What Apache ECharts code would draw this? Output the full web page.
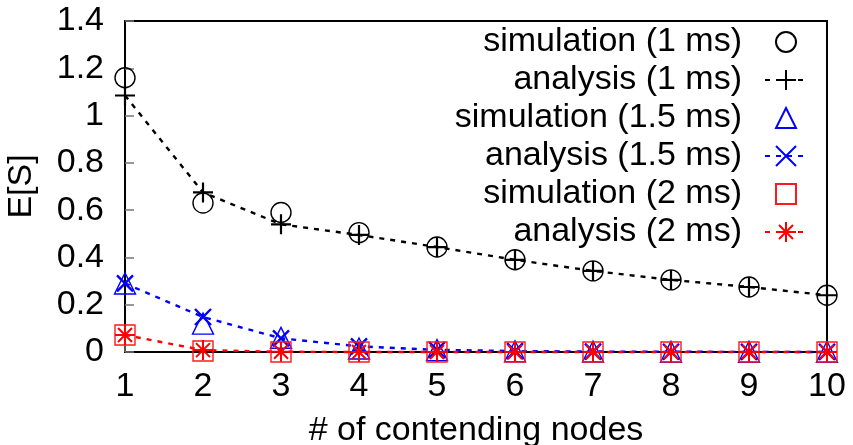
<!DOCTYPE html>
<html>
<head>
<meta charset="utf-8">
<script src="https://cdn.jsdelivr.net/npm/echarts@6/dist/echarts.min.js"></script>
<style>
  html, body { margin: 0; padding: 0; background: #fff; }
  #chart { width: 853px; height: 445px; }
</style>
</head>
<body>
<div id="chart"></div>
<script>
// Number of contending nodes
const nodes = [1, 2, 3, 4, 5, 6, 7, 8, 9, 10];

// E[S] for slot length 1 ms
const sim1ms = [1.16, 0.63, 0.59, 0.505, 0.444, 0.39, 0.343, 0.305, 0.275, 0.24];
const ana1ms = [1.085, 0.675, 0.54, 0.495, 0.444, 0.39, 0.343, 0.305, 0.275, 0.24];

// E[S] for slot length 1.5 ms
const sim15ms = [0.29, 0.12, 0.06, 0.015, 0.008, 0.003, 0.002, 0.001, 0.001, 0.001];
const ana15ms = [0.29, 0.148, 0.058, 0.024, 0.009, 0.004, 0.002, 0.001, 0.0005, 0.0002];

// E[S] for slot length 2 ms
const sim2ms = [0.072, 0.004, 0, 0, 0, 0, 0, 0, 0, 0];
const ana2ms = [0.072, 0.008, 0.001, 0, 0, 0, 0, 0, 0, 0];

const yTicks = { min: 0, max: 1.4, step: 0.2 };

const FONT = 'Liberation Sans, Arial, Helvetica, sans-serif';
const PLUS = 'path://M10,0L10,20M0,10L20,10';
const CROSS = 'path://M0,0L20,20M20,0L0,20';
const STAR = 'path://M10,0L10,20M0,10L20,10M3,3L17,17M17,3L3,17';
const DASH = [5, 6];

const pairs = (ys) => nodes.map((x, i) => [x, ys[i]]);

function simSeries(name, ys, color, symbol, size) {
  return {
    name, type: 'line', data: pairs(ys),
    symbol, symbolSize: size, showSymbol: true, showAllSymbol: true,
    clip: false, silent: true, animation: false,
    lineStyle: { width: 0, color },
    itemStyle: { color: 'rgba(0,0,0,0)', borderColor: color, borderWidth: 1.4 }
  };
}

function anaSeries(name, ys, color, symbol, size, bw) {
  return {
    name, type: 'line', data: pairs(ys),
    symbol, symbolSize: size, showSymbol: true, showAllSymbol: true,
    clip: false, silent: true, animation: false,
    lineStyle: { width: 2.4, color, type: DASH },
    itemStyle: { color: 'rgba(0,0,0,0)', borderColor: color, borderWidth: bw }
  };
}

const series = [
  simSeries('simulation (1 ms)', sim1ms, '#000000', 'circle', 20),
  anaSeries('analysis (1 ms)', ana1ms, '#000000', PLUS, 20, 2.2),
  simSeries('simulation (1.5 ms)', sim15ms, '#0000ff', 'triangle', 21),
  anaSeries('analysis (1.5 ms)', ana15ms, '#0000ff', CROSS, 16, 2.4),
  simSeries('simulation (2 ms)', sim2ms, '#ff1a1a', 'rect', 20),
  anaSeries('analysis (2 ms)', ana2ms, '#ff0000', STAR, 20, 2)
];

const chart = echarts.init(document.getElementById('chart'));
chart.setOption({
  animation: false,
  backgroundColor: '#ffffff',
  textStyle: { fontFamily: FONT },
  grid: {
    left: 125, right: 26, top: 21, bottom: 93,
    containLabel: false, outerBoundsMode: 'none',
    show: true, borderColor: '#000', borderWidth: 2, backgroundColor: 'transparent'
  },
  legend: {
    orient: 'vertical', align: 'right',
    right: 45, top: 25, padding: 0,
    itemWidth: 42, itemHeight: 25, itemGap: 4,
    selectedMode: false,
    textStyle: { fontSize: 34, fontFamily: FONT, color: '#000', lineHeight: 34, padding: [0, 18, 0, 0] },
    data: series.map(s => s.name)
  },
  xAxis: {
    type: 'value', min: 1, max: 10, interval: 1,
    name: '# of contending nodes', nameLocation: 'middle', nameGap: 62,
    nameTextStyle: { fontSize: 34, color: '#000', fontFamily: FONT },
    axisLine: { show: true, lineStyle: { color: '#000', width: 2 } },
    axisTick: { show: true, inside: true, length: 9, lineStyle: { color: '#777', width: 1.5 } },
    axisLabel: { fontSize: 34, color: '#000', margin: 18, fontFamily: FONT },
    splitLine: { show: false }
  },
  yAxis: {
    type: 'value', min: yTicks.min, max: yTicks.max, interval: yTicks.step,
    name: 'E[S]', nameLocation: 'middle', nameGap: 86,
    nameTextStyle: { fontSize: 34, color: '#000', fontFamily: FONT },
    axisLine: { show: true, lineStyle: { color: '#000', width: 2 } },
    axisTick: { show: true, inside: true, length: 9, lineStyle: { color: '#777', width: 1.5 } },
    axisLabel: { fontSize: 34, color: '#000', margin: 21, fontFamily: FONT },
    splitLine: { show: false }
  },
  series
});
</script>
</body>
</html>
